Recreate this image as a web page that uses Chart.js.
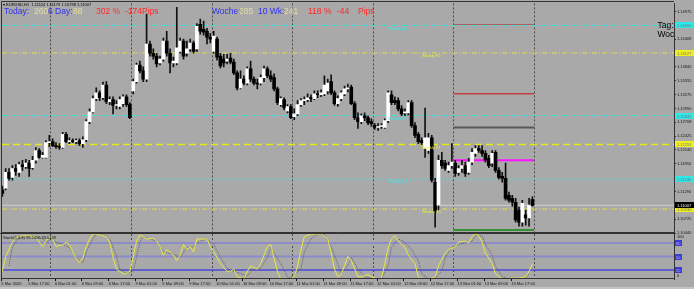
<!DOCTYPE html>
<html><head><meta charset="utf-8">
<script src="https://cdn.jsdelivr.net/npm/chart.js@4.4.1/dist/chart.umd.min.js"></script>
<style>
html,body{margin:0;padding:0;background:#a9a9a9;width:694px;height:289px;overflow:hidden;}
#wrap{position:relative;width:694px;height:289px;}
canvas{position:absolute;left:0;}
#cMain{top:0;width:694px;height:240px;}
#cStoch{top:233px;width:694px;height:56px;}
#strip{position:absolute;left:0;top:287px;width:694px;height:2px;background:#c4c4c4;}
</style></head><body>
<div id="wrap"><div id="strip"></div><canvas id="cMain" width="694" height="240"></canvas><canvas id="cStoch" width="694" height="56"></canvas></div>
<script>
// ---------------- DATA ----------------
const symbolTitle = "EURUSD,H1  1.11124 1.11179 1.10798 1.11007";
const dayStartIdx = [15, 39, 63, 87, 111, 135, 159];
const timeLabels = ["5 Mar 2020","5 Mar 17:00","6 Mar 01:00","6 Mar 09:00","6 Mar 17:00","9 Mar 01:00","9 Mar 09:00","9 Mar 17:00","10 Mar 01:00","10 Mar 09:00","10 Mar 17:00","11 Mar 01:00","11 Mar 09:00","11 Mar 17:00","12 Mar 01:00","12 Mar 09:00","12 Mar 17:00","13 Mar 01:00","13 Mar 09:00","13 Mar 17:00"];
const timeLabelIdx = [0,8,16,24,32,40,48,56,64,72,80,88,96,104,112,120,128,136,144,152];

const opens = [1.1132,1.1136,1.1168,1.1158,1.1176,1.1168,1.1184,1.1180,1.1187,1.1178,
1.1193,1.1213,1.1199,1.1199,1.1229,1.1231,1.1223,1.1221,1.1219,1.1246,
1.1231,1.1233,1.1231,1.1233,1.1227,1.1235,1.1272,1.1292,1.1319,1.1331,
1.1321,1.1347,1.1313,1.1317,1.1305,1.1303,1.1309,1.1323,1.1307,1.1335,
1.1354,1.1388,1.1376,1.1359,1.1431,1.1412,1.1406,1.1392,1.1400,1.1437,
1.1412,1.1392,1.1392,1.1416,1.1437,1.1412,1.1421,1.1433,1.1421,1.1471,
1.1461,1.1457,1.1445,1.1416,1.1441,1.1406,1.1400,1.1396,1.1402,1.1394,
1.1372,1.1341,1.1359,1.1351,1.1380,1.1359,1.1351,1.1351,1.1362,1.1380,
1.1366,1.1362,1.1339,1.1307,1.1317,1.1294,1.1303,1.1282,1.1288,1.1307,
1.1315,1.1317,1.1321,1.1319,1.1329,1.1327,1.1329,1.1335,1.1354,1.1331,
1.1309,1.1319,1.1329,1.1339,1.1343,1.1309,1.1280,1.1272,1.1284,1.1280,
1.1272,1.1264,1.1260,1.1262,1.1260,1.1274,1.1327,1.1315,1.1315,1.1298,
1.1290,1.1290,1.1311,1.1264,1.1246,1.1233,1.1217,1.1213,1.1239,1.1148,
1.1101,1.1193,1.1187,1.1172,1.1182,1.1187,1.1168,1.1176,1.1182,1.1168,
1.1189,1.1207,1.1217,1.1213,1.1207,1.1197,1.1187,1.1209,1.1172,1.1160,
1.1156,1.1121,1.1115,1.1107,1.1091,1.1066,1.1081,1.1075,1.11124];
const highs = [1.1140,1.1176,1.1176,1.1182,1.1184,1.1189,1.1193,1.1195,1.1193,1.1201,
1.1219,1.1217,1.1209,1.1233,1.1244,1.1237,1.1229,1.1227,1.1250,1.1250,
1.1239,1.1237,1.1237,1.1237,1.1241,1.1276,1.1298,1.1325,1.1341,1.1335,
1.1353,1.1354,1.1323,1.1323,1.1315,1.1323,1.1327,1.1327,1.1311,1.1359,
1.1392,1.1396,1.1384,1.1492,1.1437,1.1421,1.1412,1.1406,1.1443,1.1457,
1.1421,1.1404,1.1506,1.1443,1.1441,1.1437,1.1441,1.1437,1.1473,1.1482,
1.1478,1.1463,1.1453,1.1457,1.1445,1.1412,1.1410,1.1410,1.1412,1.1400,
1.1376,1.1376,1.1366,1.1384,1.1396,1.1364,1.1359,1.1368,1.1386,1.1384,
1.1376,1.1370,1.1343,1.1323,1.1321,1.1307,1.1307,1.1298,1.1315,1.1319,
1.1323,1.1329,1.1327,1.1335,1.1335,1.1337,1.1366,1.1359,1.1368,1.1335,
1.1325,1.1335,1.1345,1.1349,1.1347,1.1313,1.1290,1.1288,1.1290,1.1284,
1.1278,1.1268,1.1268,1.1268,1.1278,1.1335,1.1335,1.1323,1.1321,1.1305,
1.1298,1.1315,1.1315,1.1270,1.1250,1.1239,1.1300,1.1248,1.1244,1.1156,
1.1203,1.1209,1.1193,1.1189,1.1227,1.1193,1.1182,1.1193,1.1189,1.1197,
1.1217,1.1223,1.1223,1.1223,1.1213,1.1203,1.1213,1.1213,1.1178,1.1168,
1.1187,1.1128,1.1121,1.1115,1.1097,1.1111,1.1091,1.1115,1.11179];
const lows = [1.1119,1.1132,1.1152,1.1152,1.1162,1.1160,1.1172,1.1176,1.1160,1.1174,
1.1187,1.1197,1.1197,1.1197,1.1221,1.1221,1.1217,1.1215,1.1217,1.1229,
1.1227,1.1229,1.1227,1.1223,1.1219,1.1231,1.1268,1.1290,1.1315,1.1315,
1.1317,1.1309,1.1307,1.1288,1.1298,1.1298,1.1303,1.1303,1.1278,1.1329,
1.1351,1.1372,1.1354,1.1354,1.1406,1.1400,1.1384,1.1388,1.1396,1.1406,
1.1372,1.1384,1.1388,1.1412,1.1400,1.1406,1.1416,1.1412,1.1416,1.1451,
1.1449,1.1431,1.1433,1.1412,1.1398,1.1382,1.1384,1.1390,1.1390,1.1368,
1.1337,1.1339,1.1347,1.1347,1.1354,1.1347,1.1339,1.1347,1.1354,1.1362,
1.1354,1.1335,1.1307,1.1303,1.1296,1.1290,1.1278,1.1276,1.1284,1.1303,
1.1307,1.1313,1.1313,1.1317,1.1321,1.1323,1.1325,1.1329,1.1327,1.1305,
1.1303,1.1315,1.1325,1.1333,1.1307,1.1276,1.1258,1.1268,1.1274,1.1266,
1.1262,1.1256,1.1254,1.1258,1.1258,1.1270,1.1307,1.1307,1.1294,1.1284,
1.1284,1.1286,1.1260,1.1239,1.1227,1.1225,1.1199,1.1207,1.1148,1.1056,
1.1091,1.1176,1.1172,1.1168,1.1176,1.1160,1.1162,1.1168,1.1160,1.1164,
1.1184,1.1201,1.1209,1.1201,1.1189,1.1178,1.1180,1.1168,1.1154,1.1148,
1.1111,1.1107,1.1099,1.1066,1.1058,1.1058,1.1060,1.1058,1.1099];
const closes = [1.1125,1.1168,1.1156,1.1176,1.1170,1.1184,1.1180,1.1187,1.1176,1.1193,
1.1213,1.1199,1.1203,1.1229,1.1231,1.1223,1.1221,1.1219,1.1246,1.1231,
1.1233,1.1231,1.1233,1.1227,1.1235,1.1272,1.1292,1.1319,1.1331,1.1321,
1.1347,1.1313,1.1317,1.1305,1.1307,1.1317,1.1323,1.1307,1.1280,1.1354,
1.1388,1.1376,1.1359,1.1431,1.1412,1.1406,1.1390,1.1400,1.1437,1.1412,
1.1392,1.1396,1.1423,1.1437,1.1406,1.1421,1.1433,1.1416,1.1467,1.1457,
1.1455,1.1445,1.1441,1.1447,1.1404,1.1386,1.1392,1.1400,1.1394,1.1372,
1.1341,1.1359,1.1351,1.1380,1.1359,1.1351,1.1349,1.1362,1.1380,1.1366,
1.1359,1.1339,1.1311,1.1319,1.1300,1.1303,1.1280,1.1288,1.1307,1.1315,
1.1317,1.1321,1.1319,1.1329,1.1327,1.1331,1.1347,1.1351,1.1331,1.1309,
1.1319,1.1331,1.1339,1.1341,1.1309,1.1280,1.1272,1.1284,1.1280,1.1270,
1.1268,1.1260,1.1262,1.1264,1.1274,1.1331,1.1311,1.1311,1.1298,1.1288,
1.1290,1.1311,1.1264,1.1244,1.1231,1.1229,1.1239,1.1239,1.1152,1.1087,
1.1193,1.1182,1.1176,1.1182,1.1189,1.1166,1.1176,1.1182,1.1166,1.1189,
1.1209,1.1217,1.1213,1.1207,1.1193,1.1182,1.1207,1.1172,1.1158,1.1156,
1.1115,1.1111,1.1107,1.1071,1.1066,1.1105,1.1075,1.1101,1.11007];

const priceTicks = [1.14975,1.14690,1.14408,1.14127,1.13840,1.13555,1.13275,1.12990,1.12708,1.12425,1.12140,1.11855,1.11570,1.11290,1.11005,1.10725,1.10440];
const pivotNames = ["Weekly R2","Weekly R1","Weekly PP","Weekly S1","Weekly S2","Weekly S3"];
const pivotValues = [1.14690,1.14127,1.12845,1.12253,1.11540,1.10930];
const todayLevels = [1.14710,1.13290,1.12600,1.11930,1.10500];

const statsToday = ["Today:","260","6 Day:","88","302 %","-174Pips"];
const statsWeek = ["Woche:","285","10 Wk:","241","118 %","-44","Pips"];
const cornerTexts = ["Tag:","Woche:"];

const stochTitle = "Stoch(5,3,3) 26.2456 33.6449";
const stochLevels = [80, 50, 20];
const stochKIdx = [0,1,3,4,5,6,8,10,11,12,13,14,15,16,17,18,19,20,21,22,23,24,25,26,27,28,30,31,32,33,34,36,37,38,39,40,41,42,43,45,46,47,48,49,50,51,52,53,54,55,56,57,58,59,61,62,64,65,67,68,69,70,72,73,74,76,77,79,80,81,82,83,86,87,88,89,90,92,94,95,97,98,99,100,101,102,103,104,106,107,109,110,112,113,114,115,116,117,118,120,121,123,124,125,127,128,129,130,132,133,135,136,138,139,140,141,142,143,144,146,147,149,150,152,154,156,157,158];
const stochK = [17,50,82,92,94,96,96,94,82,72,84,94,89,72,75,75,82,77,60,46,36,46,72,89,100,100,96,94,82,48,22,12,12,17,48,84,98,94,89,91,84,72,53,65,60,53,41,53,77,65,72,60,89,89,89,72,48,34,17,17,22,5,0,17,29,22,34,72,77,46,17,0,0,5,29,65,94,100,100,100,89,58,22,5,10,30,50,41,5,5,10,5,0,2,34,70,89,96,84,70,53,34,5,0,0,2,5,29,58,65,72,82,84,80,94,100,96,82,58,34,12,0,0,2,2,5,17,34];
const stochDIdx = [2,3,5,9,12,13,15,16,18,20,22,24,25,27,28,31,32,34,35,37,39,40,41,42,44,46,48,51,53,55,57,59,61,63,65,67,69,71,73,75,77,79,80,83,85,86,89,90,92,94,96,98,100,101,103,104,106,108,110,113,115,116,118,120,122,124,125,127,129,131,132,134,136,138,140,141,143,144,146,147,149,151,153,156,157];
const stochD = [29,72,91,96,89,82,89,82,77,70,48,36,60,89,100,96,89,53,22,12,17,48,82,94,89,84,60,55,48,70,72,84,89,77,48,24,17,12,7,22,24,48,70,34,5,2,22,60,89,100,98,72,34,12,30,48,22,5,2,0,29,70,89,82,65,41,12,0,2,17,48,70,77,80,84,96,96,77,53,29,5,0,2,2,12];

// ---------------- CHART ----------------
const fam = '"Liberation Sans", Arial, sans-serif';
const xMin = -0.1, xMax = 200.2;
const yMin = 1.10440, yMax = 1.15141;
const daySeps = dayStartIdx.map(i => i - 0.5);
const idx = opens.map((_, i) => i);
const lastClose = closes[closes.length - 1];
const CYAN = '#3fe0e0', YEL = '#e2e050', YEL2 = '#e8e818';

function hLine(v, x0, x1, color, width, dash, order) {
  return {type:'line', data:[{x:x0,y:v},{x:x1,y:v}], borderColor:color, borderWidth:width,
          borderDash:dash||[], pointRadius:0, order:order||5, tension:0};
}
const pivotStyle = [
  {c:CYAN, w:1, d:[5,2,1,2]}, {c:YEL, w:1, d:[5,2,1,2]}, {c:CYAN, w:1, d:[5,2,1,2]},
  {c:YEL2, w:1.6, d:[7,4]}, {c:'#5ad6d6', w:1, d:[2,2]}, {c:YEL, w:1, d:[5,2,1,2]}
];
const todayStyle = [{c:'#b05a5a',w:1},{c:'#d01010',w:1},{c:'#585858',w:2},{c:'#ff10ff',w:2},{c:'#108a10',w:1.5}];

const mainSets = [];
pivotValues.forEach((v,k) => mainSets.push(hLine(v, xMin, xMax, pivotStyle[k].c, pivotStyle[k].w, pivotStyle[k].d, 6)));
mainSets.push(hLine(lastClose, xMin, xMax, '#cfcfcf', 1, [], 6));
todayLevels.forEach((v,k) => mainSets.push(hLine(v, daySeps[5], daySeps[6], todayStyle[k].c, todayStyle[k].w, [], 4)));
mainSets.push({type:'bar', data: idx.map(i => ({x:i, y:[lows[i], highs[i]]})), backgroundColor:'#111',
  barThickness:1, grouped:false, borderWidth:0, order:2});
mainSets.push({type:'bar', data: idx.map(i => ({x:i, y:[opens[i], closes[i]]})),
  backgroundColor: idx.map(i => closes[i] >= opens[i] ? '#ffffff' : '#000000'),
  borderColor: idx.map(i => closes[i] >= opens[i] ? '#202020' : '#000000'),
  barThickness:3, grouped:false, borderWidth:0, minBarLength:1, order:1});

const mainOverlay = {
  id:'mainOverlay',
  afterDraw(chart) {
    const {ctx, chartArea:ca, scales:{x, y}} = chart;
    ctx.save();
    ctx.strokeStyle = '#333'; ctx.lineWidth = 1;
    ctx.beginPath();
    ctx.moveTo(1.5, ca.bottom); ctx.lineTo(1.5, 1.5); ctx.lineTo(ca.right, 1.5);
    ctx.moveTo(1.5, ca.bottom - 0.5); ctx.lineTo(ca.right, ca.bottom - 0.5);
    ctx.stroke();
    // title
    ctx.fillStyle = '#000'; ctx.font = `4px ${fam}`; ctx.textBaseline = 'middle'; ctx.textAlign = 'left';
    ctx.fillText('\u25BE ' + symbolTitle, 3, 4.5);
    // stats
    ctx.font = `8.5px ${fam}`;
    const BLUE = '#3030f0', PALE = '#e6dea0', RED = '#ff2a2a';
    const todayX = [4,34,48,73,96,125], todayC = [BLUE,PALE,BLUE,PALE,RED,RED];
    statsToday.forEach((t,k) => { ctx.fillStyle = todayC[k]; ctx.fillText(t, todayX[k], 11.5); });
    const weekX = [212,239,258,284,308,337,358], weekC = [BLUE,PALE,BLUE,PALE,RED,RED,RED];
    statsWeek.forEach((t,k) => { ctx.fillStyle = weekC[k]; ctx.fillText(t, weekX[k], 11.5); });
    // corner texts clipped
    ctx.save();
    ctx.beginPath(); ctx.rect(ca.left, ca.top, ca.right - ca.left, ca.bottom - ca.top); ctx.clip();
    ctx.fillStyle = '#000'; ctx.font = `8.5px ${fam}`;
    ctx.fillText(cornerTexts[0], 657.5, 25.5);
    ctx.fillText(cornerTexts[1], 657.5, 34.5);
    ctx.restore();
    // pivot names
    ctx.font = `4px ${fam}`; ctx.textBaseline = 'top';
    pivotValues.forEach((v,k) => {
      const py = y.getPixelForValue(v);
      ctx.fillStyle = k % 2 ? '#eaea50' : '#40e8e8';
      ctx.fillText(pivotNames[k], x.getPixelForValue(k % 2 ? 125 : 115), py + 1);
    });
    // axis boxes
    ctx.textBaseline = 'middle';
    const box = (v, fill, tc) => {
      const py = Math.round(y.getPixelForValue(v));
      ctx.fillStyle = fill; ctx.fillRect(ca.right + 1, py - 3, 20, 6);
      ctx.fillStyle = tc; ctx.fillText(v.toFixed(5), ca.right + 3, py + 0.5);
    };
    pivotValues.forEach((v,k) => box(v, k % 2 ? '#f0f020' : '#30e8e8', '#707070'));
    box(lastClose, '#000', '#fff');
    ctx.restore();
  }
};

new Chart(document.getElementById('cMain'), {
  type:'bar',
  data:{datasets: mainSets},
  options:{
    responsive:false, animation:false, events:[],
    layout:{padding:{left:2, top:2, right:0, bottom:7}},
    plugins:{legend:{display:false}, tooltip:{enabled:false}},
    scales:{
      x:{type:'linear', min:xMin, max:xMax, offset:false,
         afterBuildTicks: s => { s.ticks = daySeps.map(v => ({value:v})); },
         afterFit: s => { s.height = 0; },
         ticks:{display:false},
         grid:{offset:false, color:'#4a4a4a', lineWidth:1, drawTicks:false},
         border:{display:false, dash:[2,2]}},
      y:{type:'linear', position:'right', min:yMin, max:yMax,
         afterBuildTicks: s => { s.ticks = priceTicks.map(v => ({value:v})); },
         afterFit: s => { s.width = 20; },
         ticks:{autoSkip:false, font:{size:4, family:fam}, color:'#151515', padding:1,
                callback: v => Number(v).toFixed(5)},
         grid:{drawOnChartArea:false, tickLength:2, color:'#333'},
         border:{color:'#333'}}
    }
  },
  plugins:[mainOverlay]
});

// ---- stochastic ----
const stochSets = [];
stochLevels.forEach((v,k) => stochSets.push(hLine(v, xMin, xMax, k < 2 ? '#8c8cc8' : '#4a4ad8', k < 2 ? 2 : 1.5, [], 5)));
stochSets.push({type:'line', data: stochDIdx.map((i,k) => ({x:i, y:stochD[k]})), borderColor:'#606060',
  borderWidth:1, borderDash:[1,1], pointRadius:0, tension:0, order:3});
stochSets.push({type:'line', data: stochKIdx.map((i,k) => ({x:i, y:stochK[k]})), borderColor:'#e8e840',
  borderWidth:1, pointRadius:0, tension:0, order:2});

const stochOverlay = {
  id:'stochOverlay',
  afterDraw(chart) {
    const {ctx, chartArea:ca, scales:{x, y}} = chart;
    ctx.save();
    ctx.strokeStyle = '#333'; ctx.lineWidth = 1;
    ctx.beginPath();
    ctx.moveTo(0, 0.5); ctx.lineTo(ca.right, 0.5);
    ctx.moveTo(1.5, 0); ctx.lineTo(1.5, ca.bottom);
    ctx.moveTo(1.5, ca.bottom - 0.5); ctx.lineTo(ca.right, ca.bottom - 0.5);
    ctx.stroke();
    ctx.font = `4px ${fam}`; ctx.textBaseline = 'middle'; ctx.textAlign = 'left';
    ctx.fillStyle = '#111';
    ctx.fillText(stochTitle, 3, 4.5);
    ctx.fillText('100', ca.right + 3, 3.5);
    ctx.fillText('0', ca.right + 3, 43);
    stochLevels.forEach(v => {
      const py = Math.round(y.getPixelForValue(v));
      ctx.fillStyle = '#3c3cd0'; ctx.fillRect(ca.right + 1, py - 3, 7, 6);
      ctx.fillStyle = '#b8b8ff'; ctx.fillText(String(v), ca.right + 2, py + 0.5);
    });
    ctx.fillStyle = '#111';
    timeLabelIdx.forEach((i,k) => {
      const px = x.getPixelForValue(i) - 1.5;
      ctx.fillRect(Math.round(px), ca.bottom, 1, 2);
      ctx.fillText(timeLabels[k], px + 0.5, ca.bottom + 4.5);
    });
    ctx.restore();
  }
};

new Chart(document.getElementById('cStoch'), {
  type:'line',
  data:{datasets: stochSets},
  options:{
    responsive:false, animation:false, events:[],
    layout:{padding:{left:2, top:1, right:0, bottom:10}},
    plugins:{legend:{display:false}, tooltip:{enabled:false}},
    scales:{
      x:{type:'linear', min:xMin, max:xMax, offset:false,
         afterBuildTicks: s => { s.ticks = daySeps.map(v => ({value:v})); },
         afterFit: s => { s.height = 0; },
         ticks:{display:false},
         grid:{offset:false, color:'#4a4a4a', lineWidth:1, drawTicks:false},
         border:{display:false, dash:[2,2]}},
      y:{type:'linear', position:'right', min:0, max:100,
         afterBuildTicks: s => { s.ticks = []; },
         afterFit: s => { s.width = 20; },
         ticks:{display:false},
         grid:{drawOnChartArea:false, drawTicks:false},
         border:{color:'#333'}}
    }
  },
  plugins:[stochOverlay]
});
</script></body></html>
